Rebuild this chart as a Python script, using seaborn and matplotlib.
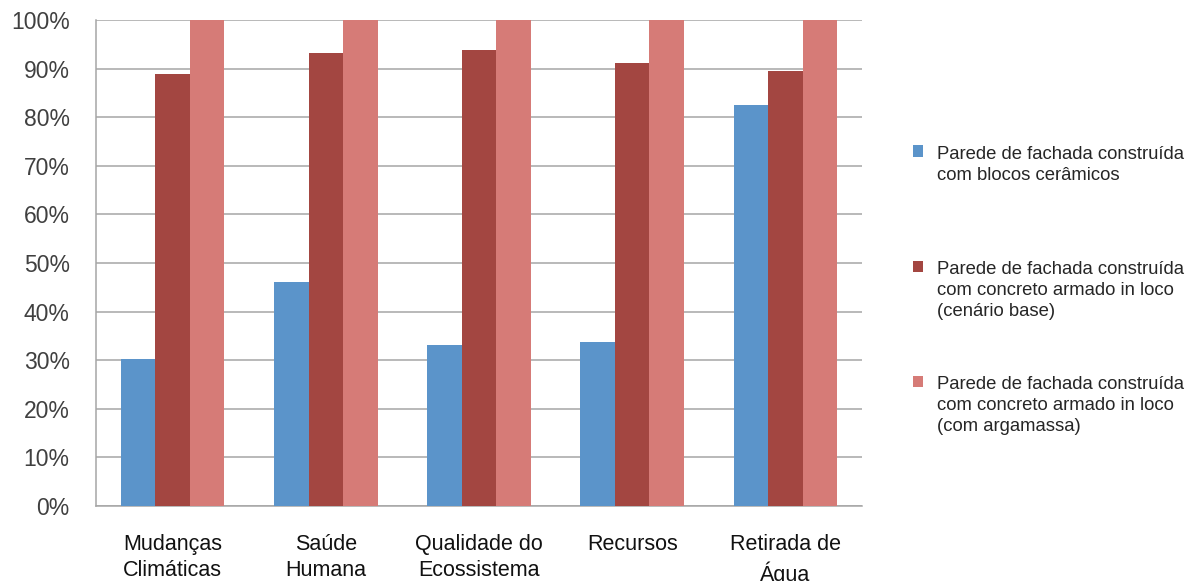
import pandas as pd
import matplotlib.pyplot as plt
import seaborn as sns
from matplotlib.patches import Patch, Rectangle
from matplotlib.legend_handler import HandlerPatch

categories = ['Mudanças\nClimáticas', 'Saúde\nHumana', 'Qualidade do\nEcossistema', 'Recursos', 'Retirada de\nÁgua']
series_names = [
    'Parede de fachada construída\ncom blocos cerâmicos',
    'Parede de fachada construída\ncom concreto armado in loco\n(cenário base)',
    'Parede de fachada construída\ncom concreto armado in loco\n(com argamassa)',
]
ceramic = [30.2, 46.1, 33.1, 33.7, 82.5]
concrete_base = [88.9, 93.2, 93.8, 91.2, 89.5]
concrete_mortar = [100, 100, 100, 100, 100]
colors = ['#5B94CA', '#A34641', '#D67B77']

rows = []
for vals, name in zip([ceramic, concrete_base, concrete_mortar], series_names):
    for cat, v in zip(categories, vals):
        rows.append({'cat': cat, 'series': name, 'value': v})
df = pd.DataFrame(rows)

sns.set_style('white')
plt.rcParams['font.family'] = ['Liberation Sans', 'DejaVu Sans']

fig = plt.figure(figsize=(11.96, 5.81), dpi=100)
ax = fig.add_axes([0.0803, 0.129, 0.6404, 0.8366])

sns.barplot(data=df, x='cat', y='value', hue='series', order=categories,
            hue_order=series_names, palette=colors, saturation=1,
            width=0.675, gap=0, ax=ax, legend=False, linewidth=0, zorder=3)

ax.set_ylim(0, 100)
ax.set_xlim(-0.5, 4.5)
ax.set_yticks(range(0, 101, 10))
ax.set_yticklabels([f'{t}%' for t in range(0, 101, 10)], fontsize=16.5, color='#404040')
ax.set_xticks(range(len(categories)))
ax.set_xticklabels(categories, fontsize=15.5, color='#111111', linespacing=1.35)
ax.tick_params(axis='y', length=0, pad=19)
ax.tick_params(axis='x', length=0, pad=20)
ax.set_xlabel('')
ax.set_ylabel('')
ax.grid(axis='y', color='#A6A6A6', linewidth=1.1, zorder=0)
ax.set_axisbelow(True)
for s in ['top', 'right']:
    ax.spines[s].set_visible(False)
for s in ['left', 'bottom']:
    ax.spines[s].set_color('#A6A6A6')
    ax.spines[s].set_linewidth(1.1)


# legend squares sit next to the first line of each label
class TopHandler(HandlerPatch):
    def create_artists(self, legend, orig_handle, xdescent, ydescent,
                       width, height, fontsize, trans):
        r = Rectangle((-xdescent, -ydescent + fontsize * 1.3), width, height,
                      facecolor=orig_handle.get_facecolor(), edgecolor='none',
                      transform=trans)
        return [r]


leg_fs = 13.3
handles = [Patch(facecolor=c, edgecolor='none') for c in colors]
labels = [series_names[0] + '\n '] + series_names[1:]
leg = fig.legend(handles, labels, loc='upper left', bbox_to_anchor=(0.757, 0.762),
                 frameon=False, fontsize=leg_fs, labelspacing=3.05, handlelength=0.55,
                 handleheight=0.55, handletextpad=0.75, borderaxespad=0,
                 handler_map={Patch: TopHandler()})
for t in leg.get_texts():
    t.set_linespacing(1.3)

plt.savefig('out.png', dpi=100)
